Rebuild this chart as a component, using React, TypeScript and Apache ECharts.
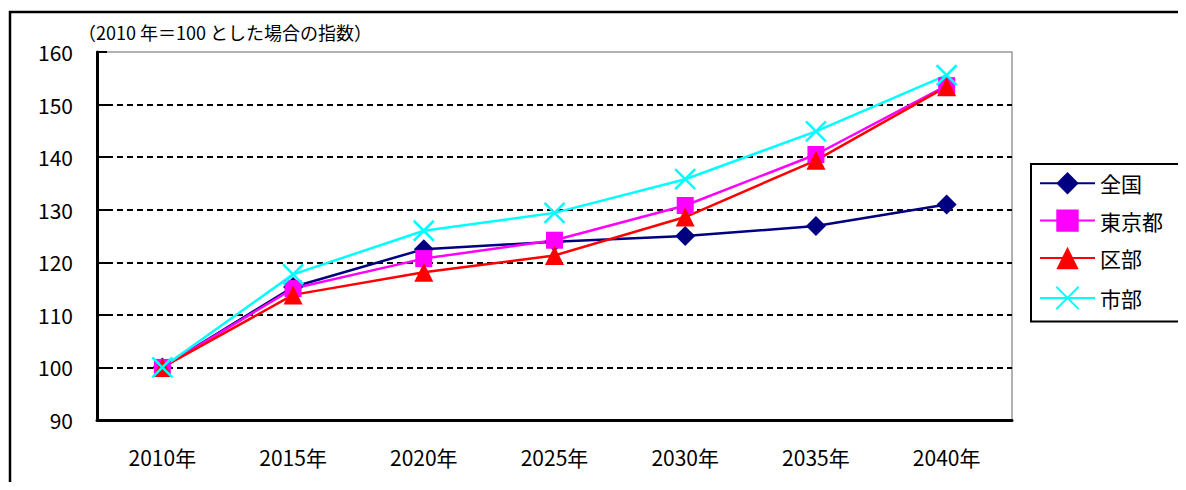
import React, { useEffect, useRef } from "react";
import * as echarts from "echarts";

const categories = ["2010年", "2015年", "2020年", "2025年", "2030年", "2035年", "2040年"];
const zenkoku = [100, 115.3, 122.5, 123.9, 125.0, 126.9, 131.0];
const tokyo = [100, 115.0, 120.7, 124.2, 130.8, 140.5, 153.6];
const kubu = [100, 113.8, 118.1, 121.3, 128.6, 139.4, 153.4];
const shibu = [100, 117.7, 126.0, 129.4, 135.8, 144.9, 155.6];
const seriesNames = ["全国", "東京都", "区部", "市部"];
const annotation = "（2010 年＝100 とした場合の指数）";

const FONT = "'Noto Sans CJK JP', 'Liberation Sans', sans-serif";

export default function App() {
  const ref = useRef<HTMLDivElement>(null);
  useEffect(() => {
    if (!ref.current) return;
    const chart = echarts.init(ref.current, undefined, { renderer: "svg" });
    const mk = (name: string, data: number[], color: string, symbol: string, size: number, extra: any = {}) => ({
      name,
      type: "line",
      data,
      symbol,
      symbolSize: size,
      lineStyle: { color, width: 2.5 },
      itemStyle: { color, ...extra },
      emphasis: { disabled: true },
    });
    chart.setOption({
      animation: false,
      textStyle: { fontFamily: FONT },
      grid: {
        left: 97,
        right: 174,
        top: 52,
        bottom: 70,
        show: true,
        borderColor: "#999",
        borderWidth: 1.5,
      },
      xAxis: {
        type: "category",
        data: categories,
        boundaryGap: true,
        axisLine: { lineStyle: { color: "#000", width: 3 } },
        axisTick: { inside: true, length: 11, lineStyle: { color: "#000", width: 2 } },
        axisLabel: { color: "#000", fontSize: 21, margin: 26, fontFamily: FONT },
        splitLine: { show: false },
      },
      yAxis: {
        type: "value",
        min: 90,
        max: 160,
        interval: 10,
        axisLine: { show: true, lineStyle: { color: "#000", width: 3 } },
        axisTick: { show: true, inside: true, length: 10, lineStyle: { color: "#000", width: 2 } },
        axisLabel: { color: "#000", fontSize: 21, margin: 24, fontFamily: FONT },
        splitLine: {
          show: true,
          lineStyle: {
            color: ["#000", "#000", "#000", "#000", "#000", "#000", "#000", "transparent"],
            type: [6, 4],
            width: 2,
          },
        },
      },
      legend: {
        orient: "vertical",
        left: 1031,
        top: 164,
        data: seriesNames,
        itemWidth: 55,
        itemHeight: 28,
        itemGap: 15,
        padding: [8, 22, 10, 8],
        borderColor: "#000",
        borderWidth: 2,
        textStyle: { fontSize: 21, color: "#000", fontFamily: FONT },
      },
      graphic: [
        {
          type: "rect",
          shape: { x: 10, y: 12, width: 1250, height: 600 },
          style: { fill: "none", stroke: "#000", lineWidth: 2.5 },
          silent: true,
        },
        {
          type: "text",
          left: 78,
          top: 23,
          style: { text: annotation, fill: "#000", font: `18px ${FONT}` },
        },
      ],
      series: [
        mk(seriesNames[0], zenkoku, "#000080", "diamond", 20),
        mk(seriesNames[1], tokyo, "#FF00FF", "rect", 17),
        mk(seriesNames[2], kubu, "#FF0000", "triangle", 19),
        mk(seriesNames[3], shibu, "#00FFFF", "path://M0,0L10,10M10,0L0,10", 20, {
          color: "none",
          borderColor: "#00FFFF",
          borderWidth: 2.5,
        }),
      ],
    });
    return () => chart.dispose();
  }, []);
  return <div ref={ref} style={{ width: 1186, height: 490, margin: -8 }} />;
}
